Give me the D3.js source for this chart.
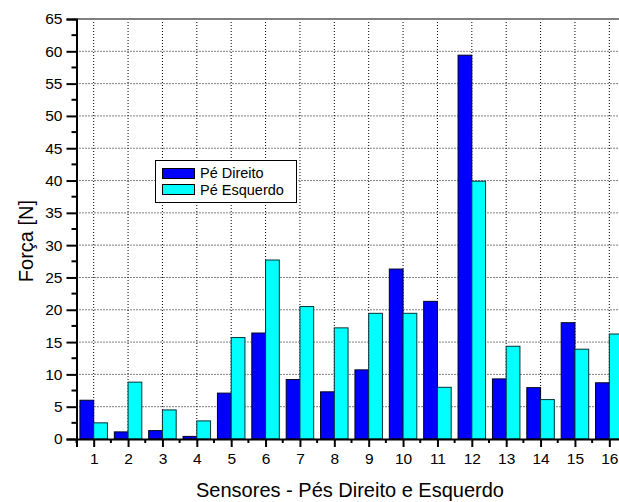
<!DOCTYPE html>
<html>
<head>
<meta charset="utf-8">
<script src="https://cdn.jsdelivr.net/npm/d3@7"></script>
<style>
  html, body { margin: 0; padding: 0; background: #fff; overflow: hidden; }
  svg { display: block; }
  svg text { font-family: "Liberation Sans", Arial, sans-serif; }
</style>
</head>
<body>
<svg id="chart" width="619" height="502"></svg>
<script>
// Sensor indices (1..16) and force readings in newtons for each foot
const sensors = [1, 2, 3, 4, 5, 6, 7, 8, 9, 10, 11, 12, 13, 14, 15, 16];
const peDireito = [6.0, 1.1, 1.3, 0.4, 7.1, 16.4, 9.2, 7.3, 10.7, 26.3, 21.3, 59.4, 9.3, 7.95, 18.0, 8.7];
const peEsquerdo = [2.5, 8.8, 4.5, 2.8, 15.7, 27.7, 20.5, 17.2, 19.45, 19.45, 8.0, 39.9, 14.35, 6.1, 13.9, 16.25];
const yTicks = [0, 5, 10, 15, 20, 25, 30, 35, 40, 45, 50, 55, 60, 65];
const seriesNames = ["Pé Direito", "Pé Esquerdo"];
const seriesColors = ["#0000ff", "#00ffff"];
const FONT = "'Liberation Sans', Arial, sans-serif";

const svg = d3.select("#chart");

const x = d3.scaleLinear().domain([0.5, 16.5]).range([76.5, 626.5]);
const y = d3.scaleLinear().domain([0, 65]).range([439, 19]);
const barW = 0.4;

// Grid: horizontal dotted lines
svg.append("g").selectAll("line").data(yTicks.filter(d => d > 0 && d < 65)).join("line")
  .attr("x1", x(0.5)).attr("x2", 619)
  .attr("y1", d => y(d)).attr("y2", d => y(d))
  .attr("stroke", "#000").attr("stroke-width", 1).attr("stroke-dasharray", "1,2");

// Grid: vertical dotted lines at each sensor
svg.append("g").selectAll("line").data(sensors).join("line")
  .attr("x1", d => x(d)).attr("x2", d => x(d))
  .attr("y1", y(65)).attr("y2", y(0))
  .attr("stroke", "#000").attr("stroke-width", 1).attr("stroke-dasharray", "1,2");

// Bars
const bars = svg.append("g");
bars.selectAll("rect.dir").data(sensors).join("rect")
  .attr("class", "dir")
  .attr("x", d => x(d - barW))
  .attr("width", x(barW) - x(0))
  .attr("y", (d, i) => y(peDireito[i]))
  .attr("height", (d, i) => y(0) - y(peDireito[i]))
  .attr("fill", seriesColors[0]).attr("stroke", "#000022").attr("stroke-width", 1);
bars.selectAll("rect.esq").data(sensors).join("rect")
  .attr("class", "esq")
  .attr("x", d => x(d))
  .attr("width", x(barW) - x(0))
  .attr("y", (d, i) => y(peEsquerdo[i]))
  .attr("height", (d, i) => y(0) - y(peEsquerdo[i]))
  .attr("fill", seriesColors[1]).attr("stroke", "#003333").attr("stroke-width", 1);

// Top frame line
svg.append("line").attr("x1", x(0.5)).attr("x2", 619).attr("y1", y(65)).attr("y2", y(65))
  .attr("stroke", "#808080").attr("stroke-width", 2);

// Y axis
const yAxis = d3.axisLeft(y).tickValues(yTicks).tickSize(10).tickPadding(4);
const gy = svg.append("g").attr("transform", `translate(${x(0.5)},0)`).call(yAxis)
  .attr("font-family", FONT);
gy.select(".domain").attr("stroke", "#000").attr("stroke-width", 2);
gy.selectAll(".tick line").attr("stroke", "#000").attr("stroke-width", 2);
gy.selectAll(".tick text").attr("font-size", 15.5).attr("fill", "#000");
const yMinor = d3.range(2.5, 65, 5);
svg.append("g").selectAll("line").data(yMinor).join("line")
  .attr("x1", x(0.5) - 5).attr("x2", x(0.5))
  .attr("y1", d => y(d)).attr("y2", d => y(d))
  .attr("stroke", "#000").attr("stroke-width", 2);

// X axis
const xAxis = d3.axisBottom(x).tickValues(sensors).tickFormat(d3.format("d")).tickSize(8).tickPadding(6);
const gx = svg.append("g").attr("transform", `translate(0,${y(0)})`).call(xAxis)
  .attr("font-family", FONT);
gx.select(".domain").attr("stroke", "#000").attr("stroke-width", 2);
gx.selectAll(".tick line").attr("stroke", "#000").attr("stroke-width", 2);
gx.selectAll(".tick text").attr("font-size", 15.5).attr("fill", "#000");
const xMinor = d3.range(0.5, 17, 1);
svg.append("g").selectAll("line").data(xMinor).join("line")
  .attr("x1", d => x(d)).attr("x2", d => x(d))
  .attr("y1", y(0)).attr("y2", y(0) + 4)
  .attr("stroke", "#000").attr("stroke-width", 2);

// Axis titles
svg.append("text").attr("x", 350).attr("y", 497).attr("text-anchor", "middle")
  .attr("font-family", FONT).attr("font-size", 20).attr("fill", "#000")
  .text("Sensores - Pés Direito e Esquerdo");
svg.append("text").attr("transform", "translate(33,241) rotate(-90)").attr("text-anchor", "middle")
  .attr("font-family", FONT).attr("font-size", 20).attr("fill", "#000").text("Força [N]");

// Legend
const lg = svg.append("g").attr("font-family", FONT);
lg.append("rect").attr("x", 155.5).attr("y", 160.5).attr("width", 141).attr("height", 42)
  .attr("fill", "#fff").attr("stroke", "#000").attr("stroke-width", 1);
seriesNames.forEach((name, i) => {
  lg.append("rect").attr("x", 162.5).attr("y", 168.5 + i * 16).attr("width", 32).attr("height", 10)
    .attr("fill", seriesColors[i]).attr("stroke", "#000").attr("stroke-width", 1);
  lg.append("text").attr("x", 200).attr("y", 178 + i * 16.5)
    .attr("font-size", 14.5).attr("fill", "#000").text(name);
});
</script>
</body>
</html>
